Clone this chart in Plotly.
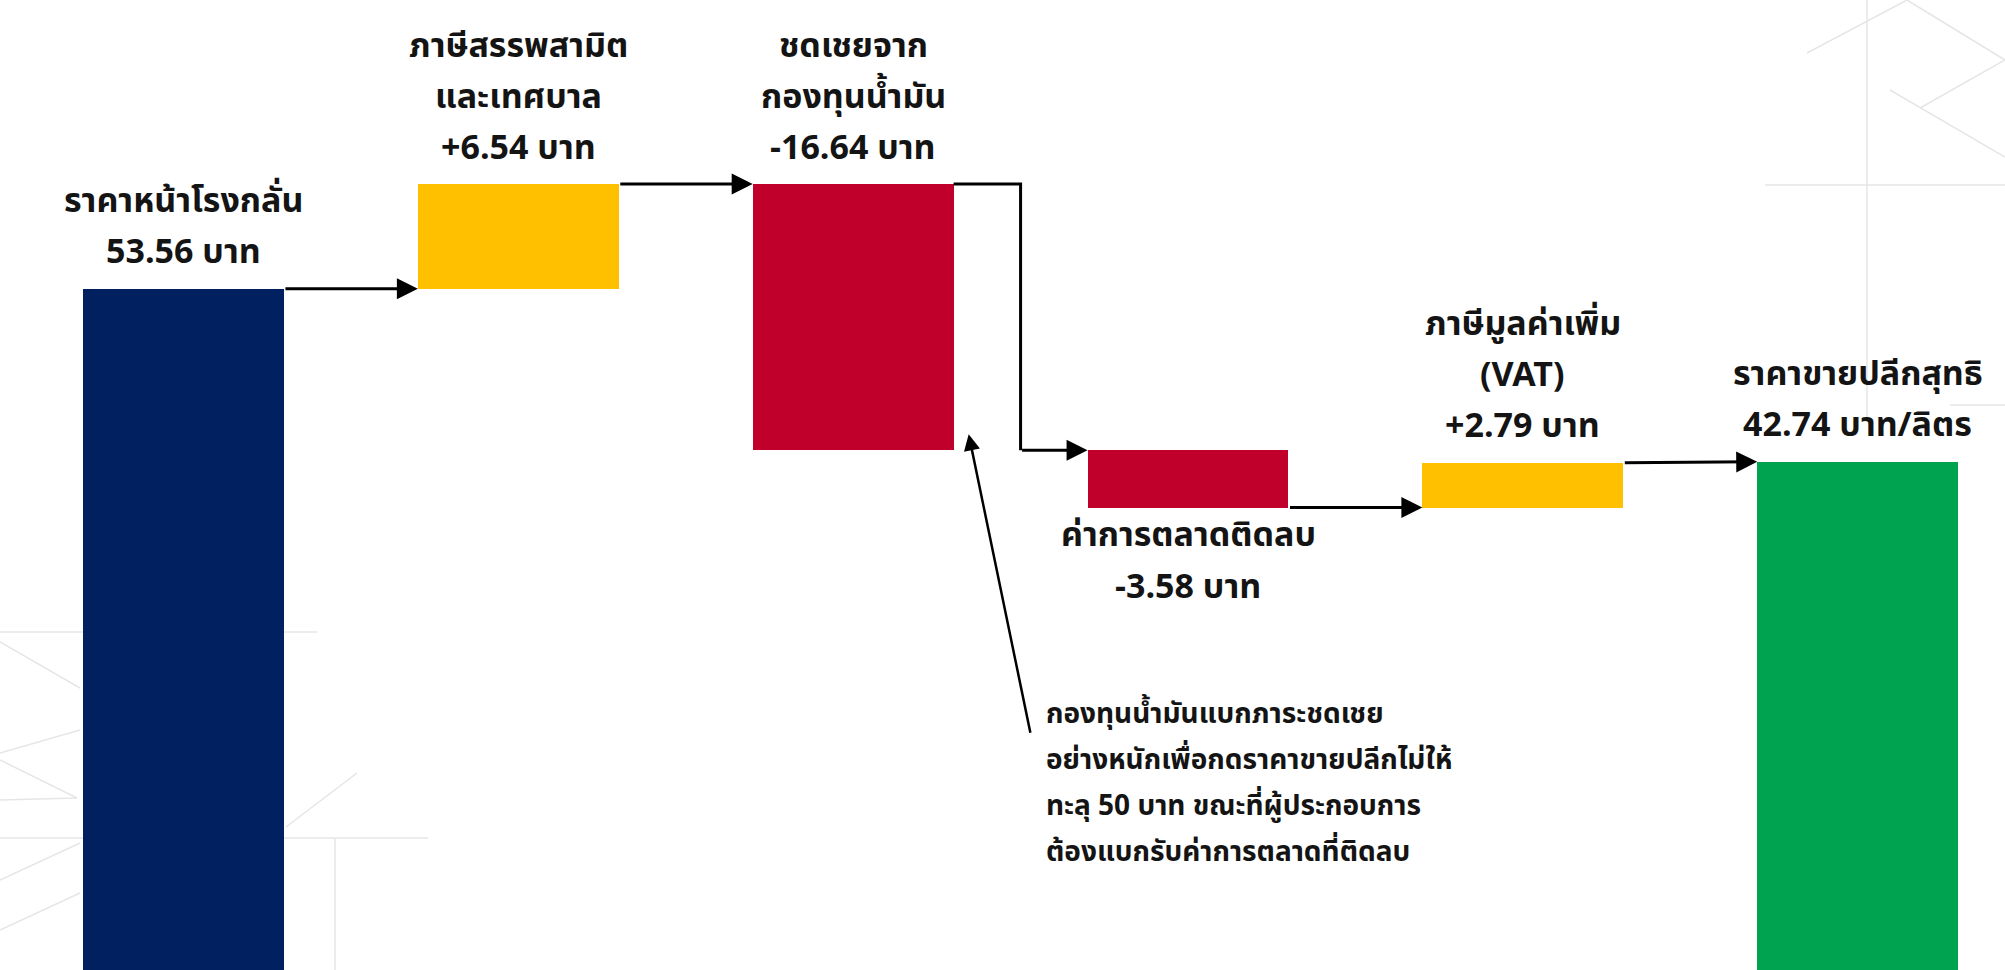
import plotly.graph_objects as go

# ---- data -------------------------------------------------------------
step_titles = [
    ["ราคาหน้าโรงกลั่น"],
    ["ภาษีสรรพสามิต", "และเทศบาล"],
    ["ชดเชยจาก", "กองทุนน้ำมัน"],
    ["ค่าการตลาดติดลบ"],
    ["ภาษีมูลค่าเพิ่ม", "(VAT)"],
    ["ราคาขายปลีกสุทธิ"],
]
refinery_price = 53.56                     # บาท/ลิตร
price_changes = [6.54, -16.64, -3.58, 2.79]
retail_price = 42.74                       # บาท/ลิตร
value_units = ["บาท", "บาท", "บาท", "บาท", "บาท", "บาท/ลิตร"]

note_lines = [
    "กองทุนน้ำมันแบกภาระชดเชย",
    "อย่างหนักเพื่อกดราคาขายปลีกไม่ให้",
    "ทะลุ 50 บาท ขณะที่ผู้ประกอบการ",
    "ต้องแบกรับค่าการตลาดที่ติดลบ",
]

# ---- styling ----------------------------------------------------------
NAVY, GOLD, CRIMSON, GREEN = "#002060", "#FFC000", "#C0002A", "#00A34F"
FONT = "Noto Sans Thai, Tahoma, Leelawadee UI, Sarabun, Loma, Garuda, sans-serif"
TEXT = "#141414"
W, H = 2005, 970
BAR_W = 0.6
LABEL_SIZE, LABEL_STEP, LABEL_GAP = 34, 51, 36
NOTE_SIZE, NOTE_STEP = 28, 46

# ---- waterfall geometry from the values ------------------------------
bases, heights = [0.0], [refinery_price]
level = refinery_price
levels_after = [level]
for delta in price_changes:
    bases.append(level)
    heights.append(delta)
    level = round(level + delta, 2)
    levels_after.append(level)
bases.append(0.0)
heights.append(retail_price)

colors = [NAVY] + [GOLD if d > 0 else CRIMSON for d in price_changes] + [GREEN]
xs = list(range(len(step_titles)))

value_text = [f"{refinery_price:.2f} {value_units[0]}"]
value_text += [f"{d:+.2f} {u}" for d, u in zip(price_changes, value_units[1:5])]
value_text.append(f"{retail_price:.2f} {value_units[5]}")

fig = go.Figure()
fig.add_trace(go.Bar(
    x=xs, y=heights, base=bases, width=BAR_W,
    marker=dict(color=colors, line=dict(width=0)),
    hovertext=[" ".join(t) for t in step_titles],
    hoverinfo="text",
))

# faint geometric background lines (canvas pixels)
deco = [
    (1867, 0, 1867, 420), (1765, 185, 2005, 185), (1950, 405, 2005, 405),
    (1807, 53, 1907, 0), (1907, 0, 2005, 60), (1920, 108, 2005, 60),
    (1890, 90, 2005, 157),
    (0, 632, 317, 632), (0, 838, 428, 838), (335, 838, 335, 970),
    (0, 642, 80, 688), (0, 753, 80, 730), (0, 760, 77, 798),
    (0, 800, 77, 798), (0, 880, 80, 843), (0, 930, 80, 893),
    (286, 827, 357, 773),
]
for x0, y0, x1, y1 in deco:
    fig.add_shape(type="line", xref="paper", yref="paper", layer="below",
                  x0=x0 / W, y0=1 - y0 / H, x1=x1 / W, y1=1 - y1 / H,
                  line=dict(color="#E6E6E6", width=1.5))

# step labels, one line per annotation for even line spacing
for i, (title, val) in enumerate(zip(step_titles, value_text)):
    lines = title + [val]
    top = max(bases[i], bases[i] + heights[i])
    bottom = min(bases[i], bases[i] + heights[i])
    below = i == 3
    n = len(lines)
    for k, line in enumerate(lines):
        if below:
            shift = -(28 + k * 52)
        else:
            shift = LABEL_GAP + (n - 1 - k) * LABEL_STEP
        fig.add_annotation(
            x=xs[i], y=bottom if below else top, text=line, showarrow=False,
            yanchor="middle", yshift=shift, align="center",
            font=dict(family=FONT, size=LABEL_SIZE, color=TEXT, weight="bold"),
        )

# connectors between steps
def arrow(x_tail, y_tail, x_tip, y_tip):
    fig.add_annotation(
        x=x_tip, y=y_tip, ax=x_tail, ay=y_tail, axref="x", ayref="y",
        text="", showarrow=True, arrowhead=2, arrowsize=1.4,
        arrowwidth=3, arrowcolor="#000000", standoff=0,
    )

half = BAR_W / 2
arrow(xs[0] + half, levels_after[0], xs[1] - half, levels_after[0])
arrow(xs[1] + half, levels_after[1], xs[2] - half, levels_after[1])
# elbow from the top of the fund subsidy bar down to the next step
mid = (xs[2] + xs[3]) / 2
fig.add_trace(go.Scatter(
    x=[xs[2] + half, mid, mid], y=[levels_after[1], levels_after[1], levels_after[2]],
    mode="lines", line=dict(color="#000000", width=3), hoverinfo="skip",
))
arrow(mid, levels_after[2], xs[3] - half, levels_after[2])
arrow(xs[3] + half, levels_after[3], xs[4] - half, levels_after[3])
arrow(xs[4] + half, levels_after[4], xs[5] - half, retail_price)

# explanatory note pointing at the fund subsidy bar
for k, line in enumerate(note_lines):
    fig.add_annotation(
        xref="paper", yref="paper", x=1044 / W, y=1 - (714 + NOTE_STEP * k) / H,
        xanchor="left", yanchor="middle", align="left", showarrow=False,
        text=line,
        font=dict(family=FONT, size=NOTE_SIZE, color=TEXT, weight="bold"),
    )
fig.add_annotation(
    x=xs[2] + half + 0.045, y=levels_after[2] + 1.0,
    ax=62, ay=300, axref="pixel", ayref="pixel",
    text="", showarrow=True, arrowhead=2, arrowsize=1.3,
    arrowwidth=2.5, arrowcolor="#000000", standoff=0,
)

fig.update_layout(
    width=W, height=H, margin=dict(l=0, r=0, t=0, b=0),
    paper_bgcolor="#FFFFFF", plot_bgcolor="rgba(0,0,0,0)",
    showlegend=False, bargap=0,
    xaxis=dict(range=[-0.548, 5.44], visible=False, fixedrange=True),
    yaxis=dict(range=[10.975, 71.6], visible=False, fixedrange=True),
)

fig.write_html("out.html")
